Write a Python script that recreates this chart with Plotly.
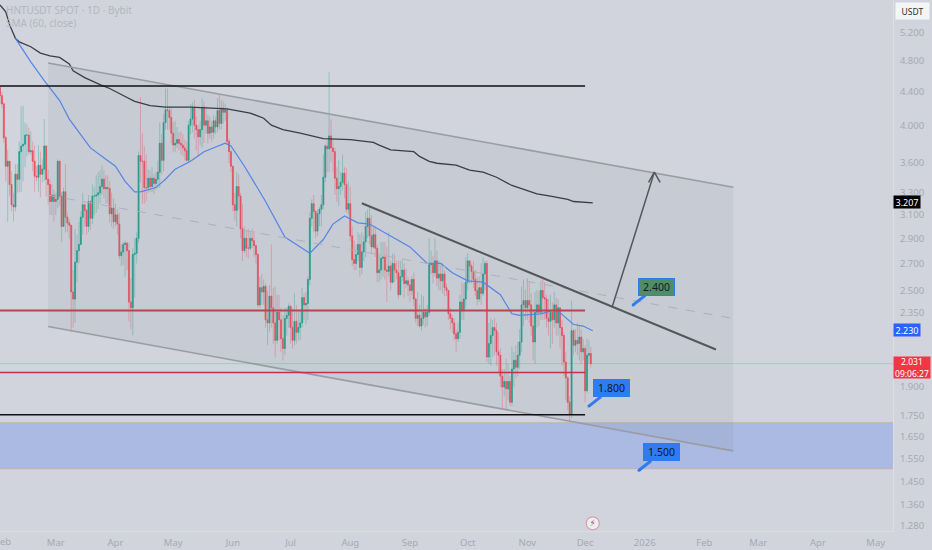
import math
import pandas as pd
import plotly.graph_objects as go

BG = "#d1d4dc"
TICK = "#a6a9b2"

# daily candles (open = previous close)
first_open = 4.45
closes = [
    4.35,
    4.25,3.86,3.56,3.61,3.38,3.19,3.17,3.48,3.43,3.71,
    3.77,3.79,3.89,3.89,3.71,3.72,3.61,3.46,3.45,3.57,
    3.48,3.53,3.77,3.43,3.38,3.22,3.28,3.22,3.24,3.61,
    3.27,3.00,3.31,3.08,3.03,3.01,2.49,2.44,2.71,2.80,
    2.85,3.08,3.19,3.14,3.00,3.22,3.07,3.27,3.27,3.28,
    3.30,3.36,3.43,3.34,3.35,3.34,3.11,3.16,3.04,3.10,
    3.02,2.76,
    2.79,2.85,2.86,2.80,2.42,2.38,2.77,2.78,2.90,3.67,3.61,
    3.61,3.35,3.35,3.44,3.36,3.44,3.39,3.43,3.50,3.80,
    3.62,4.03,4.18,4.17,4.09,3.91,3.78,3.80,3.84,3.80,
    3.78,3.75,3.72,3.62,4.00,4.07,4.21,4.00,3.95,3.87,
    3.95,4.21,4.00,4.05,3.91,3.98,3.92,4.05,3.98,4.17,
    4.02,4.20,4.15,4.18,3.82,3.71,3.56,3.19,3.14,3.36,
    3.27,2.98,
    2.80,2.90,2.82,2.82,2.90,2.88,2.84,2.77,2.40,2.52,
    2.49,2.53,2.30,2.28,2.46,2.38,2.28,2.17,2.35,2.30,
    2.18,2.12,2.31,2.33,2.39,2.25,2.17,2.29,2.22,2.25,
    2.28,2.45,2.40,2.41,2.58,3.07,3.20,3.13,2.96,3.11,
    3.15,3.19,3.45,3.77,3.74,3.88,3.75,3.71,3.44,3.34,
    3.36,3.40,3.49,3.38,3.15,3.20,2.92,2.73,2.70,2.77,
    2.85,2.67,
    2.79,2.87,3.00,3.07,2.92,2.83,2.93,2.82,2.63,2.65,
    2.74,2.75,2.65,2.64,2.68,2.56,2.70,2.65,2.63,2.47,
    2.60,2.65,2.55,2.57,2.54,2.50,2.58,2.44,2.31,2.33,
    2.26,2.31,2.35,2.32,2.35,2.69,2.70,2.63,2.72,2.59,
    2.62,2.57,2.62,2.52,2.50,2.34,2.31,2.28,2.21,2.18,
    2.22,2.42,2.36,2.44,2.56,2.72,2.68,2.64,2.58,2.50,
    2.44,2.52,
    2.48,2.62,2.70,2.07,2.15,2.20,2.25,2.23,2.10,2.08,1.96,
    1.90,1.93,1.89,1.93,1.82,2.00,2.05,2.01,2.08,2.16,
    2.40,2.43,2.38,2.43,2.40,2.26,2.16,2.35,2.40,2.35,
    2.50,2.45,2.44,2.31,2.29,2.35,2.30,2.40,2.28,2.38,
    2.25,2.20,2.04,1.95,1.82,1.76,2.23,2.14,2.17,2.15,
    2.19,2.10,2.12,1.88,2.08,2.09,2.031,
]
highs = [
    4.47,
    4.40,4.27,3.88,3.73,3.61,3.51,3.30,3.58,3.58,3.82,
    4.22,4.23,4.03,4.01,3.97,3.93,3.82,3.78,3.56,3.78,
    3.71,3.63,4.07,3.78,3.53,3.43,3.38,3.33,3.30,3.63,
    3.62,3.31,3.35,3.58,3.12,3.06,3.00,2.65,2.98,2.93,
    3.04,3.13,3.30,3.20,3.15,3.28,3.23,3.38,3.36,3.47,
    3.50,3.52,3.57,3.52,3.47,3.47,3.41,3.30,3.25,3.20,
    3.15,3.12,
    2.85,2.87,2.88,2.87,2.86,2.59,2.82,2.90,2.95,3.71,4.33,
    3.91,3.77,3.68,3.53,3.52,3.55,3.48,3.50,3.62,4.03,
    3.90,4.13,4.44,4.44,4.22,4.20,4.03,4.05,3.98,3.92,
    3.93,3.90,3.84,3.82,4.05,4.25,4.27,4.30,4.10,4.00,
    4.05,4.32,4.28,4.22,4.12,4.10,4.05,4.12,4.10,4.32,
    4.36,4.30,4.28,4.25,4.20,3.85,3.72,3.56,3.30,3.50,
    3.48,3.30,
    3.20,3.00,2.97,2.98,2.96,2.98,2.96,2.85,2.78,2.60,
    2.62,2.58,2.55,2.50,2.54,2.85,2.52,2.53,2.47,2.47,
    2.38,2.33,2.38,2.38,2.41,2.40,2.38,2.48,2.40,2.35,
    2.36,2.52,2.48,2.49,2.60,3.12,3.24,3.28,3.14,3.15,
    3.17,3.28,3.68,3.79,3.83,4.65,4.07,3.85,3.75,3.55,
    3.62,3.50,3.68,3.55,3.54,3.41,3.36,3.00,2.88,2.85,
    2.95,2.93,
    2.95,2.92,3.13,3.15,3.17,3.10,3.00,3.00,2.85,2.78,
    2.87,2.87,2.87,2.83,2.95,2.72,2.78,2.77,2.72,2.72,
    2.72,2.73,2.70,2.66,2.60,2.58,2.60,2.63,2.45,2.49,
    2.40,2.47,2.46,2.38,2.40,2.90,2.80,2.76,2.90,2.80,
    2.72,2.68,2.70,2.65,2.55,2.50,2.38,2.33,2.31,2.24,
    2.28,2.47,2.56,2.55,2.75,2.78,2.72,2.70,2.72,2.65,
    2.60,2.60,
    2.70,2.75,2.72,2.72,2.28,2.31,2.30,2.31,2.28,2.22,2.12,
    2.00,2.00,2.06,2.03,1.96,2.13,2.10,2.14,2.16,2.24,
    2.53,2.58,2.51,2.59,2.56,2.48,2.37,2.49,2.50,2.50,
    2.57,2.60,2.56,2.47,2.44,2.47,2.42,2.49,2.45,2.44,
    2.38,2.30,2.22,2.10,1.96,1.85,2.43,2.24,2.24,2.28,
    2.26,2.24,2.18,2.14,2.18,2.17,2.13,
]
lows = [
    4.25,
    4.20,3.80,3.41,3.04,3.27,3.13,3.04,3.13,3.30,3.31,
    3.31,3.41,3.55,3.66,3.68,3.68,3.51,3.31,3.41,3.31,
    3.26,3.40,3.41,3.27,3.19,3.10,3.10,3.04,3.10,3.16,
    3.18,2.87,3.00,2.95,2.95,2.90,2.22,2.25,2.28,2.56,
    2.70,2.93,2.93,3.00,2.93,2.95,2.97,3.02,3.10,3.12,
    3.15,3.20,3.28,3.25,3.20,3.20,3.03,3.00,2.98,3.00,
    2.93,2.73,
    2.68,2.69,2.60,2.65,2.29,2.24,2.20,2.45,2.70,2.86,3.40,
    3.20,3.20,3.22,3.30,3.31,3.31,3.29,3.33,3.35,3.35,
    3.48,3.51,3.95,3.95,3.95,3.80,3.70,3.71,3.75,3.72,
    3.68,3.66,3.62,3.61,3.60,3.90,3.92,3.85,3.72,3.66,
    3.78,3.75,3.80,3.90,3.80,3.85,3.82,3.85,3.90,3.92,
    3.95,3.95,4.02,4.05,3.78,3.59,3.50,3.13,3.05,3.00,
    3.15,2.90,
    2.72,2.78,2.75,2.74,2.80,2.82,2.75,2.70,2.38,2.38,
    2.40,2.40,2.25,2.14,2.22,2.25,2.15,2.07,2.15,2.17,
    2.10,2.05,2.08,2.20,2.25,2.15,2.12,2.14,2.15,2.17,
    2.17,2.25,2.30,2.27,2.30,2.54,3.00,2.95,2.90,2.92,
    3.00,3.00,3.15,3.40,3.50,3.50,3.60,3.50,3.28,3.22,
    3.18,3.28,3.32,3.25,3.12,3.10,2.88,2.68,2.65,2.65,
    2.72,2.60,
    2.62,2.72,2.75,2.90,2.85,2.78,2.82,2.75,2.56,2.56,
    2.58,2.60,2.58,2.42,2.60,2.50,2.55,2.56,2.58,2.44,
    2.47,2.57,2.45,2.52,2.46,2.42,2.47,2.39,2.28,2.26,
    2.25,2.23,2.27,2.25,2.26,2.33,2.62,2.55,2.60,2.53,
    2.50,2.50,2.48,2.46,2.46,2.30,2.24,2.22,2.17,2.10,
    2.16,2.18,2.30,2.30,2.38,2.50,2.55,2.55,2.52,2.46,
    2.40,2.42,
    2.40,2.46,2.50,2.04,2.03,2.02,2.07,2.08,2.02,1.98,1.90,
    1.79,1.85,1.78,1.83,1.80,1.80,1.90,1.95,1.96,2.00,
    2.10,2.26,2.30,2.30,2.28,2.20,2.05,2.03,2.25,2.26,
    2.30,2.30,2.30,2.25,2.20,2.12,2.15,2.25,2.20,2.20,
    2.12,2.02,1.96,1.83,1.78,1.72,1.74,2.08,2.10,2.08,
    2.05,2.03,2.05,1.82,1.87,2.03,2.01,
]

# moving averages
sma200_dates = ["2025-01-31","2025-02-03","2025-02-05","2025-02-08","2025-02-10","2025-02-16","2025-02-21","2025-02-26",
                "2025-03-03","2025-03-08","2025-03-10","2025-03-16","2025-03-24","2025-03-29","2025-04-06","2025-04-11",
                "2025-04-19","2025-04-27","2025-05-10","2025-05-29","2025-06-10","2025-06-17","2025-06-21","2025-06-27",
                "2025-07-06","2025-07-18","2025-08-01","2025-08-13","2025-08-16","2025-08-22","2025-09-03","2025-09-06",
                "2025-09-11","2025-09-15","2025-09-25","2025-10-02","2025-10-09","2025-10-16","2025-10-24","2025-10-30",
                "2025-11-06","2025-11-13","2025-11-22","2025-11-25","2025-12-05"]
sma200 = [5.63,5.52,5.32,5.12,5.07,5.00,4.91,4.87,
          4.85,4.76,4.67,4.58,4.49,4.44,4.34,4.28,
          4.23,4.21,4.21,4.19,4.14,4.08,4.00,3.95,
          3.91,3.85,3.84,3.81,3.78,3.73,3.71,3.66,
          3.61,3.59,3.57,3.52,3.50,3.45,3.37,3.33,
          3.29,3.27,3.24,3.22,3.207]
sma60_dates = ["2025-02-08","2025-02-16","2025-02-23","2025-03-03","2025-03-08","2025-03-14","2025-03-19","2025-03-27",
               "2025-04-01","2025-04-06","2025-04-11","2025-04-14","2025-04-22","2025-04-27","2025-05-02","2025-05-10",
               "2025-05-17","2025-05-28","2025-05-31","2025-06-07","2025-06-18","2025-06-28","2025-07-06","2025-07-11",
               "2025-07-18","2025-07-23","2025-07-29","2025-08-05","2025-08-11","2025-08-20","2025-09-01","2025-09-10",
               "2025-09-17","2025-09-23","2025-10-01","2025-10-09","2025-10-18","2025-10-24","2025-10-28","2025-11-08",
               "2025-11-16","2025-11-25","2025-11-30","2025-12-05"]
sma60 = [5.12,4.79,4.54,4.29,4.07,3.89,3.75,3.63,
         3.56,3.41,3.31,3.31,3.35,3.43,3.53,3.61,
         3.71,3.80,3.77,3.56,3.22,2.91,2.83,2.78,
         2.89,3.02,3.09,3.03,3.02,2.94,2.83,2.70,
         2.70,2.63,2.57,2.56,2.47,2.34,2.33,2.34,
         2.37,2.27,2.26,2.23]

# drawings on the chart
channel_dates = ["2025-02-25", "2026-02-16"]
channel_top = [4.774, 3.353]
channel_mid = [3.278, 2.309]
channel_bot = [2.257, 1.585]
trend_dates = ["2025-08-07", "2026-02-07"]
trend_vals = [3.204, 2.114]
arrow_dates = ["2025-12-15", "2026-01-06"]
arrow_vals = [2.382, 3.50]
head_dates = ["2026-01-03", "2026-01-06", "2026-01-09"]
head_vals = [3.40, 3.50, 3.40]
level_dates = ["2025-01-20", "2025-12-01"]
black_levels = [4.471, 1.756]
red_levels = [2.362, 1.98]
zone_low, zone_high = 1.506, 1.717
last_price = 2.031

callout_dates = ["2025-12-26", "2025-12-03", "2025-12-29"]
callout_vals = [2.40, 1.80, 1.50]
callout_fill = ["#508c66", "#2f7bf0", "#2f7bf0"]

tick_prices = [5.2, 4.8, 4.4, 4.0, 3.6, 3.3, 3.1, 2.9, 2.7, 2.5, 2.35, 1.9, 1.75, 1.65, 1.55, 1.45, 1.36, 1.28]
month_ticks = ["2025-03-01", "2025-04-01", "2025-05-01", "2025-06-01", "2025-07-01", "2025-08-01", "2025-09-01",
               "2025-10-01", "2025-11-01", "2025-12-01", "2026-01-01", "2026-02-01", "2026-03-01", "2026-04-01", "2026-05-01"]
month_labels = ["Mar", "Apr", "May", "Jun", "Jul", "Aug", "Sep", "Oct", "Nov", "Dec", "2026", "Feb", "Mar", "Apr", "May"]

dates = pd.date_range(end="2025-12-04", periods=len(closes))
opens = [first_open] + closes[:-1]
body_hi = [max(o, c) for o, c in zip(opens, closes)]
body_lo = [min(o, c) for o, c in zip(opens, closes)]

fig = go.Figure()


def line(x, y, color, width, dash="solid"):
    fig.add_trace(go.Scatter(x=x, y=y, mode="lines", line=dict(color=color, width=width, dash=dash),
                             hoverinfo="skip", showlegend=False))


# blue zone and channel, zone runs past both axis ends so only its top and bottom edges show
axis_start, axis_end = "2025-01-31", "2026-05-10"
zone_start, zone_end = "2025-01-01", "2026-06-01"
fig.add_trace(go.Scatter(x=[zone_start, zone_end, zone_end, zone_start, zone_start],
                         y=[zone_low, zone_low, zone_high, zone_high, zone_low],
                         mode="lines", fill="toself", fillcolor="rgba(45,105,245,0.24)",
                         line=dict(color="rgba(205,170,150,0.7)", width=1), hoverinfo="skip", showlegend=False))
fig.add_trace(go.Scatter(x=channel_dates + channel_dates[::-1] + channel_dates[:1],
                         y=channel_top + channel_bot[::-1] + channel_top[:1],
                         mode="lines", fill="toself", fillcolor="rgba(120,123,134,0.1)",
                         line=dict(width=0), hoverinfo="skip", showlegend=False))

# candles: pale wicks first, then the solid bodies
fig.add_trace(go.Candlestick(x=dates, open=opens, high=highs, low=lows, close=closes,
                             increasing=dict(line=dict(color="rgba(8,153,129,0.3)", width=1), fillcolor="rgba(8,153,129,0.3)"),
                             decreasing=dict(line=dict(color="rgba(242,54,69,0.3)", width=1), fillcolor="rgba(242,54,69,0.3)"),
                             hoverinfo="skip", showlegend=False))
fig.add_trace(go.Candlestick(x=dates, open=opens, high=body_hi, low=body_lo, close=closes,
                             increasing=dict(line=dict(color="#1f9e8a", width=0.5), fillcolor="#1f9e8a"),
                             decreasing=dict(line=dict(color="#ea4f5c", width=0.5), fillcolor="#ea4f5c"),
                             hoverinfo="skip", showlegend=False))

line(sma200_dates, sma200, "#3a3d47", 1.3)
line(sma60_dates, sma60, "#5585e6", 1.2)

line(channel_dates, channel_top, "#9a9ca4", 1.6)
line(channel_dates, channel_bot, "#9a9ca4", 1.6)
line(channel_dates, channel_mid, "#aeb0b8", 1, "dash")
line(trend_dates, trend_vals, "#54565e", 2)
line(arrow_dates, arrow_vals, "#54565e", 1.5)
line(head_dates, head_vals, "#54565e", 1.5)

line(level_dates, [black_levels[0]] * 2, "#111111", 1.6)
line(level_dates, [black_levels[1]] * 2, "#111111", 1.6)
line(level_dates, [red_levels[0]] * 2, "#b5474f", 2)
line(level_dates, [red_levels[1]] * 2, "#c2333f", 1.6)
line([axis_start, axis_end], [last_price, last_price], "rgba(242,54,69,0.2)", 1)

fig.add_trace(go.Scatter(x=callout_dates, y=callout_vals, mode="markers",
                         marker=dict(color="#2f7bf0", size=3), hoverinfo="skip", showlegend=False))
# the lightning badge near the bottom of the chart
fig.add_trace(go.Scatter(x=["2025-12-05"], y=[1.29], mode="markers+text", text=["⚡"],
                         textposition="middle center", textfont=dict(size=9, color="#a8424c", family="DejaVu Sans"),
                         marker=dict(color="#eceef2", size=13, line=dict(color="#d8a0a6", width=1.2)),
                         hoverinfo="skip", showlegend=False))

for d, v, fill in zip(callout_dates, callout_vals, callout_fill):
    fig.add_annotation(x=d, y=math.log10(v), text=f"{v:.3f}", ax=23, ay=-18, axref="pixel", ayref="pixel",
                       showarrow=True, arrowhead=0, arrowwidth=3, arrowcolor="#2f7bf0",
                       bgcolor=fill, bordercolor="#2f7bf0", borderwidth=1, borderpad=2, width=31, height=12,
                       font=dict(family="Noto Sans", size=10.5, color="#15181f"))


def paper_text(x, y, text, color, size=10, xanchor="left", bg=None, family="Noto Sans", w=None, h=None):
    # paper coordinates span the plot area, which is 893 x 531 pixels
    fig.add_annotation(xref="paper", yref="paper", x=x / 893, y=1 - y / 531, text=text, showarrow=False,
                       xanchor=xanchor, yanchor="middle", align="center", bgcolor=bg, width=w, height=h,
                       font=dict(family=family, size=size, color=color), borderpad=0)


paper_text(5, 10, "HNTUSDT SPOT · 1D · Bybit", "#b3b6be", 10)
paper_text(5, 23, "SMA (60, close)", "#b3b6be", 10)
paper_text(895, 11, "USDT", "#2a2e39", 8.5, bg="#f4f5f7", w=33, h=16)
paper_text(893, 202, "3.207", "#ffffff", 9, bg="#000000", w=26, h=12)
paper_text(893, 330, "2.230", "#ffffff", 9, bg="#2962ff", w=26, h=12)
paper_text(893, 367.5, "2.031<br>09:06:27", "#ffffff", 8.5, bg="#f23645", w=36, h=21)
paper_text(3, 541, "Feb", TICK, 9.5, xanchor="center")

fig.update_layout(
    width=932, height=550, margin=dict(l=0, r=39, t=0, b=19),
    paper_bgcolor=BG, plot_bgcolor=BG, showlegend=False,
    font=dict(family="Noto Sans", size=9.5, color=TICK),
    xaxis=dict(type="date", range=[axis_start, axis_end], rangeslider=dict(visible=False),
               tickmode="array", tickvals=month_ticks, ticktext=month_labels,
               showgrid=False, zeroline=False, showline=True, linecolor="#dcdee4", linewidth=1,
               ticks="outside", ticklen=3, tickcolor="rgba(0,0,0,0)", tickangle=0),
    yaxis=dict(type="log", side="right", range=[math.log10(1.262), math.log10(5.71)],
               tickmode="array", tickvals=tick_prices, ticktext=[f"{p:.3f}" for p in tick_prices],
               showgrid=False, zeroline=False, showline=True, linecolor="#dcdee4", linewidth=1,
               ticks="outside", ticklen=4, tickcolor="rgba(0,0,0,0)"),
)

fig.write_html("out.html", config=dict(displayModeBar=False), post_script="document.body.style.margin='0';")
